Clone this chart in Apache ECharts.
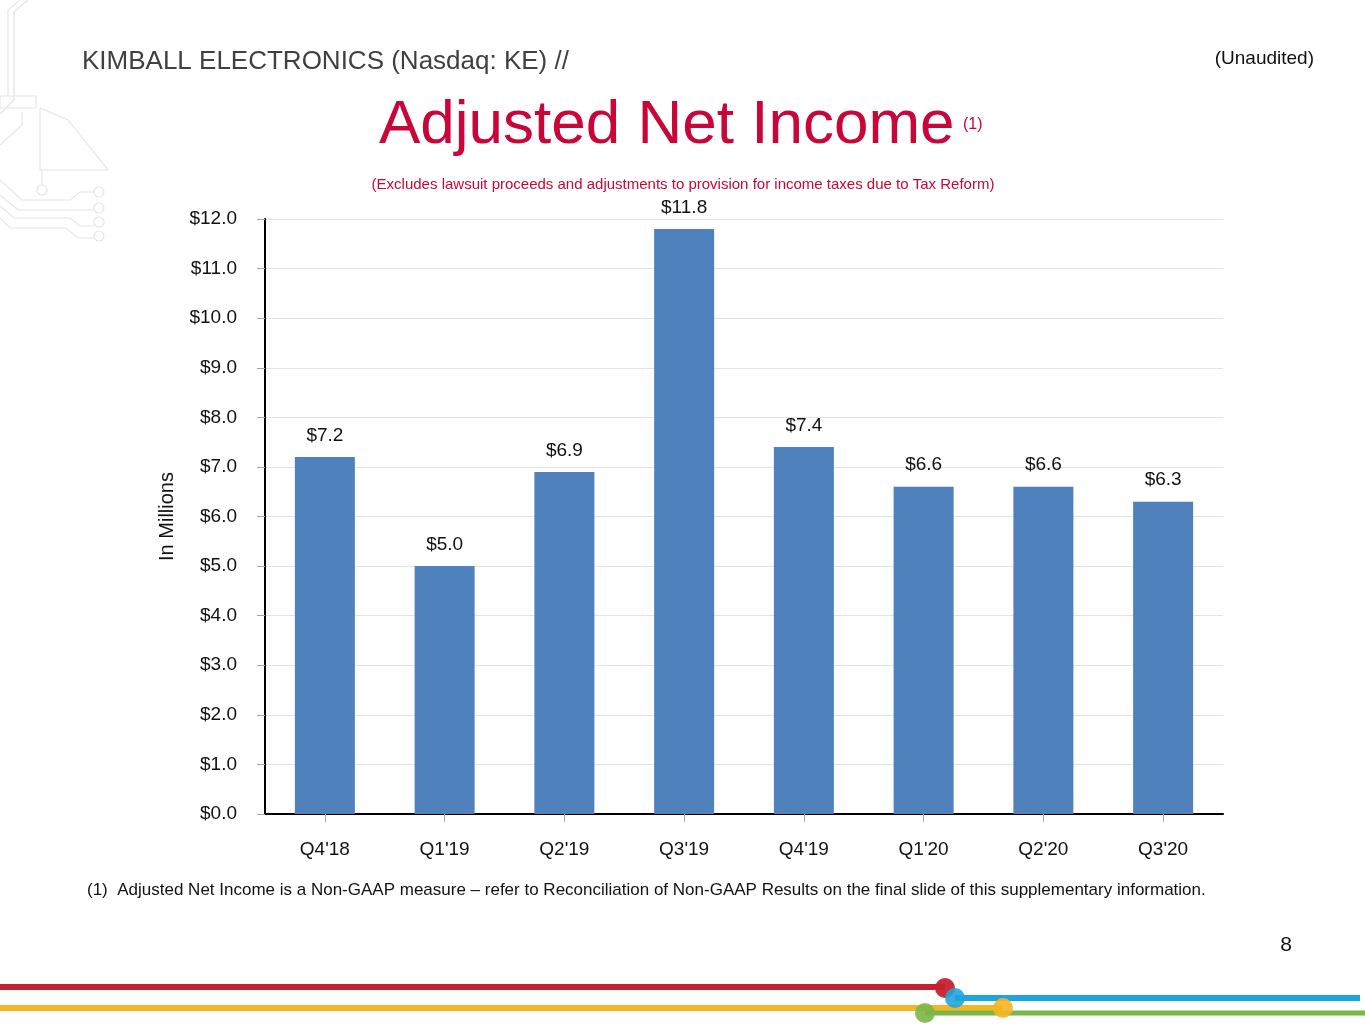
<!DOCTYPE html>
<html>
<head>
<meta charset="utf-8">
<script src="https://cdn.jsdelivr.net/npm/echarts@6/dist/echarts.min.js"></script>
<style>
html,body{margin:0;padding:0;background:#fff;}
#chart{width:1365px;height:1024px;}
</style>
</head>
<body>
<div id="chart"></div>
<script>
const categories = ["Q4'18", "Q1'19", "Q2'19", "Q3'19", "Q4'19", "Q1'20", "Q2'20", "Q3'20"];
const adjustedNetIncome = [7.2, 5.0, 6.9, 11.8, 7.4, 6.6, 6.6, 6.3];
const yMin = 0, yMax = 12, yStep = 1;

const FONT = "'Liberation Sans', Arial, sans-serif";
const RED = '#c8063a';
const circuit = '#e6e6e6';

const chart = echarts.init(document.getElementById('chart'), null, {renderer: 'canvas'});

function txt(x, y, text, size, fill, align) {
  return {type:'text', x:x, y:y, style:{text:text, font:size + 'px ' + FONT, fill:fill, align:align || 'left', verticalAlign:'middle'}};
}

const deco = [
  // circuit-board decoration (top left, faint)
  {type:'polyline', shape:{points:[[28,0],[14,12],[14,100],[0,114]]}, style:{stroke:circuit, lineWidth:1.5, fill:null}},
  {type:'polyline', shape:{points:[[20,0],[8,10],[8,96]]}, style:{stroke:circuit, lineWidth:1.2, fill:null}},
  {type:'rect', shape:{x:0,y:96,width:36,height:12}, style:{stroke:circuit, lineWidth:1.2, fill:null}},
  {type:'polyline', shape:{points:[[40,108],[40,170],[108,170],[68,120],[40,108]]}, style:{stroke:circuit, lineWidth:1.2, fill:null}},
  {type:'polyline', shape:{points:[[0,145],[22,125],[22,112]]}, style:{stroke:circuit, lineWidth:1.2, fill:null}},
  {type:'polyline', shape:{points:[[42,170],[42,185]]}, style:{stroke:circuit, lineWidth:1.2, fill:null}},
  {type:'circle', shape:{cx:42,cy:190,r:5}, style:{stroke:circuit, lineWidth:1.2, fill:null}},
  {type:'polyline', shape:{points:[[0,180],[22,200],[70,200],[80,192],[94,192]]}, style:{stroke:circuit, lineWidth:1.2, fill:null}},
  {type:'polyline', shape:{points:[[0,195],[18,210],[94,210]]}, style:{stroke:circuit, lineWidth:1.2, fill:null}},
  {type:'polyline', shape:{points:[[0,206],[14,218],[70,218],[80,226],[94,226]]}, style:{stroke:circuit, lineWidth:1.2, fill:null}},
  {type:'polyline', shape:{points:[[0,218],[10,228],[66,228],[78,238],[94,238]]}, style:{stroke:circuit, lineWidth:1.2, fill:null}},
  {type:'circle', shape:{cx:99,cy:192,r:5}, style:{stroke:circuit, lineWidth:1.2, fill:null}},
  {type:'circle', shape:{cx:99,cy:208,r:5}, style:{stroke:circuit, lineWidth:1.2, fill:null}},
  {type:'circle', shape:{cx:99,cy:222,r:5}, style:{stroke:circuit, lineWidth:1.2, fill:null}},
  {type:'circle', shape:{cx:99,cy:236,r:5}, style:{stroke:circuit, lineWidth:1.2, fill:null}},

  // header texts
  txt(82, 62, 'KIMBALL ELECTRONICS (Nasdaq: KE) //', 26, '#404040'),
  txt(1314, 59, '(Unaudited)', 19, '#111', 'right'),
  txt(379, 126, 'Adjusted Net Income', 62, RED),
  txt(963, 125, '(1)', 16, RED),
  txt(683, 185, '(Excludes lawsuit proceeds and adjustments to provision for income taxes due to Tax Reform)', 15, RED, 'center'),

  // footnote & page number
  txt(87, 890, '(1)  Adjusted Net Income is a Non-GAAP measure \u2013 refer to Reconciliation of Non-GAAP Results on the final slide of this supplementary information.', 17, '#111'),
  txt(1286, 945, '8', 21, '#111', 'center'),

  // bottom colored lines
  {type:'line', shape:{x1:0,y1:987,x2:945,y2:987}, style:{stroke:'#c8202f', lineWidth:6}},
  {type:'line', shape:{x1:955,y1:998,x2:1360,y2:998}, style:{stroke:'#1ea6dc', lineWidth:6}},
  {type:'line', shape:{x1:0,y1:1008,x2:1003,y2:1008}, style:{stroke:'#f6b524', lineWidth:6}},
  {type:'line', shape:{x1:925,y1:1013,x2:1365,y2:1013}, style:{stroke:'#7ab748', lineWidth:5}},
  {type:'circle', shape:{cx:945,cy:988,r:10}, style:{fill:'#c8202f', opacity:0.95}},
  {type:'circle', shape:{cx:955,cy:998,r:10}, style:{fill:'#1ea6dc', opacity:0.9}},
  {type:'circle', shape:{cx:1003,cy:1008,r:10}, style:{fill:'#f6b524', opacity:0.9}},
  {type:'circle', shape:{cx:925,cy:1013,r:10}, style:{fill:'#7ab748', opacity:0.9}}
];

const option = {
  backgroundColor: '#fff',
  animation: false,
  textStyle: {fontFamily: FONT},
  grid: {left: 265, right: 142, top: 219, bottom: 210, containLabel: false},
  xAxis: {
    type: 'category',
    data: categories,
    boundaryGap: true,
    axisLine: {show: true, lineStyle: {color: '#000', width: 2}},
    axisTick: {show: true, alignWithLabel: true, length: 8, lineStyle: {color: '#a6a6a6', width: 1}},
    axisLabel: {margin: 26, fontSize: 19, color: '#111', fontFamily: FONT}
  },
  yAxis: {
    type: 'value',
    min: yMin, max: yMax, interval: yStep,
    name: 'In Millions',
    nameLocation: 'middle',
    nameGap: 88,
    nameRotate: 90,
    nameTextStyle: {fontSize: 20, color: '#111', fontFamily: FONT},
    axisLine: {show: true, lineStyle: {color: '#000', width: 2}},
    axisTick: {show: true, length: 8, lineStyle: {color: '#a6a6a6', width: 1}},
    axisLabel: {margin: 28, fontSize: 19, color: '#111', fontFamily: FONT,
      formatter: v => '$' + v.toFixed(1)},
    splitLine: {show: true, lineStyle: {color: '#e3e3e3', width: 1}}
  },
  series: [{
    type: 'bar',
    data: adjustedNetIncome,
    barWidth: 60,
    itemStyle: {color: '#4f81bd'},
    label: {show: true, position: 'top', distance: 12, fontSize: 19, color: '#111', fontFamily: FONT,
      formatter: p => '$' + p.value.toFixed(1)}
  }],
  graphic: deco
};
chart.setOption(option);
</script>
</body>
</html>
